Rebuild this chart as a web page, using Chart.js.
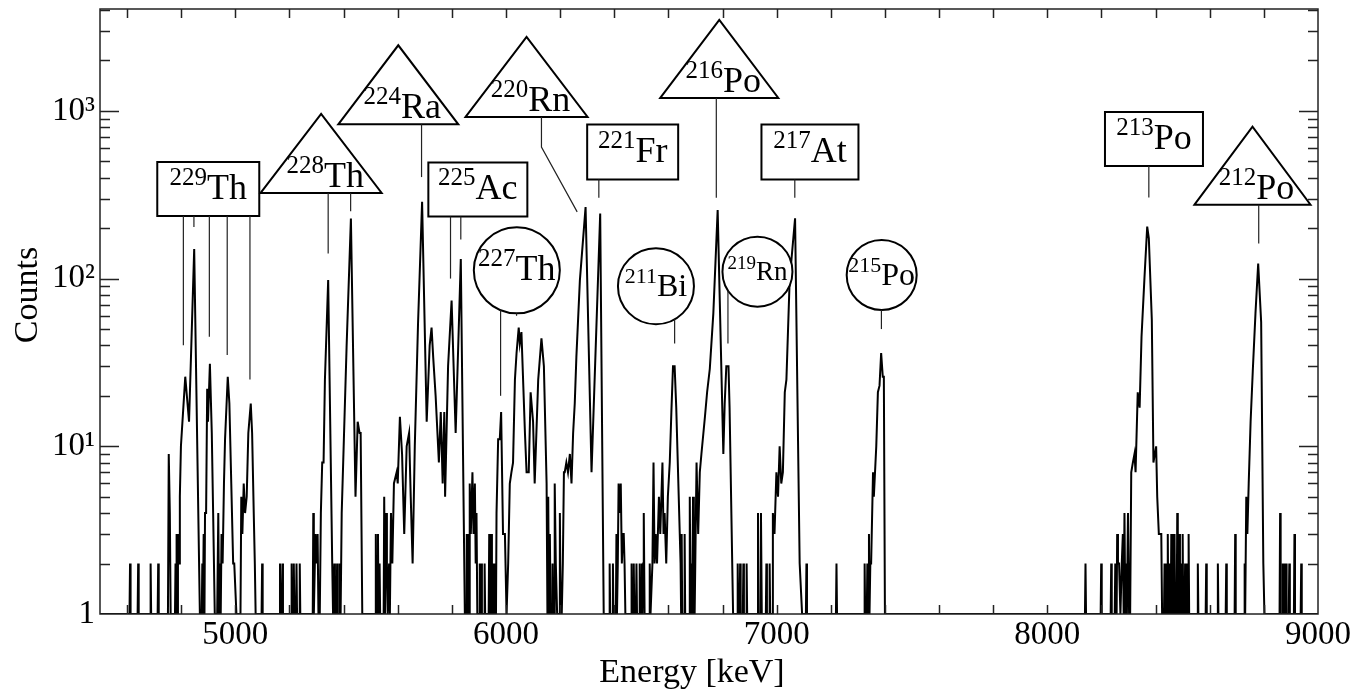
<!DOCTYPE html>
<html lang="en">
<head>
  <meta charset="UTF-8" />
  <title>Alpha spectrum</title>
  <script src="https://cdn.jsdelivr.net/npm/chart.js"></script>
  <style>
    html, body {
      margin: 0;
      padding: 0;
      background: #fff;
    }
    #wrap {
      width: 1365px;
      height: 694px;
    }
  </style>
</head>
<body>
  <div id="wrap"><canvas id="spectrum" width="1365" height="694"></canvas></div>

  <script>
    const FONT = "'Liberation Serif', 'Times New Roman', serif";

    // spectrum: energy in keV, counts per bin (1 = empty floor)
    const energyKeV = [
      4500, 4609, 4611, 4613, 4639, 4641, 4643, 4685, 4687, 4689, 4713, 4715, 4717,
      4751, 4754, 4758, 4761, 4777, 4779, 4781, 4783, 4785, 4788, 4792, 4795, 4799,
      4815, 4829, 4848, 4869, 4876, 4878, 4880, 4883, 4886, 4888, 4892,
      4896, 4899, 4906, 4913, 4918, 4924, 4933, 4937, 4940, 4943, 4946, 4949, 4953,
      4958, 4962, 4972, 4978, 4985, 4992, 4996, 5004, 5019, 5022, 5026, 5031, 5036,
      5042, 5048, 5057, 5062, 5068, 5072, 5075, 5097, 5099, 5101,
      5163, 5165, 5167, 5172, 5174, 5176, 5206, 5208, 5210, 5214, 5216, 5218,
      5224, 5226, 5228, 5236, 5238, 5240, 5286, 5288, 5290, 5296, 5300, 5304, 5307,
      5312, 5316, 5321, 5326, 5331, 5343, 5358, 5361, 5366, 5368, 5374, 5376, 5378,
      5384, 5386, 5389, 5393, 5401, 5411, 5427, 5444, 5452, 5459, 5463, 5469,
      5517, 5519, 5521, 5525, 5527, 5529, 5533, 5535, 5548, 5550, 5553, 5557, 5560,
      5563, 5568, 5571, 5575, 5580, 5586, 5596, 5600, 5608, 5616, 5624, 5633, 5642,
      5648, 5655, 5663, 5675, 5690, 5707, 5718, 5725, 5731, 5740, 5752, 5759, 5766,
      5772, 5775, 5786, 5799, 5814, 5833, 5848, 5853, 5855, 5857, 5860, 5862, 5864,
      5866, 5870, 5876, 5880, 5885, 5888, 5891, 5894, 5901, 5903, 5905,
      5907, 5909, 5911, 5919, 5921, 5923, 5936, 5938, 5940, 5944, 5946, 5948,
      5953, 5955, 5957, 5959, 5961, 5963, 5965, 5971, 5977, 5982, 5989, 5996, 6002,
      6008, 6014, 6020, 6026, 6033, 6039, 6047, 6051, 6057, 6070, 6076, 6084, 6091,
      6100, 6106, 6119, 6131, 6140, 6150, 6153, 6156, 6159, 6162, 6165, 6170, 6172,
      6174, 6178, 6180, 6184, 6189, 6197, 6199, 6202, 6206, 6210, 6214, 6217, 6223,
      6229, 6236, 6242, 6248, 6254, 6260, 6273, 6294, 6316, 6348, 6361,
      6381, 6383, 6385, 6393, 6395, 6397, 6406, 6408, 6410, 6413, 6416, 6420, 6424,
      6428, 6432, 6435, 6438, 6441, 6462, 6464, 6466, 6470, 6472, 6474, 6480, 6482,
      6484, 6492, 6494, 6496, 6500, 6502, 6504, 6507, 6509, 6512, 6529, 6531, 6534,
      6541, 6545, 6549, 6553, 6558, 6565, 6570, 6578, 6582, 6586, 6592, 6598, 6605,
      6611, 6617, 6623, 6629, 6645, 6647, 6649, 6651, 6658, 6660, 6662, 6677, 6679,
      6682, 6685, 6688, 6691, 6694, 6697, 6704, 6710, 6716, 6722, 6735, 6743, 6753,
      6766, 6782, 6803, 6808, 6814, 6822, 6826, 6839, 6854, 6856, 6858, 6863, 6865,
      6867, 6875, 6877, 6879, 6887, 6889, 6891, 6929, 6931, 6934, 6940, 6942, 6945,
      6960, 6962, 6964, 6972, 6974, 6976, 6984, 6986, 6992, 6999, 7005, 7011, 7017,
      7023, 7030, 7036, 7048, 7068, 7085, 7094, 7108, 7110, 7112, 7219, 7221, 7223,
      7323, 7325, 7327, 7333, 7335, 7337, 7339, 7341, 7343, 7346, 7349, 7356, 7359,
      7368, 7374, 7380, 7386, 7392, 7396, 7400, 8139, 8141, 8143, 8197, 8199, 8201,
      8234, 8236, 8238, 8249, 8251, 8253, 8256, 8258, 8261, 8265, 8270, 8275, 8279,
      8282, 8285, 8288, 8291, 8294, 8298, 8302, 8306, 8310, 8316, 8322, 8326, 8334,
      8341, 8348, 8359, 8369, 8375, 8386, 8392, 8402, 8406, 8412, 8421, 8424,
      8431, 8433, 8435, 8437, 8439, 8441, 8443, 8445, 8447, 8449, 8451, 8453,
      8456, 8458, 8460, 8462, 8464, 8466, 8468, 8470, 8472, 8478, 8480, 8482,
      8486, 8488, 8490, 8492, 8494, 8496, 8498, 8500, 8502, 8507, 8509, 8511,
      8513, 8515, 8517, 8520, 8522, 8524, 8554, 8556, 8558, 8585, 8587, 8589,
      8628, 8630, 8632, 8659, 8661, 8663, 8692, 8694, 8696, 8727, 8729, 8731,
      8733, 8735, 8739, 8744, 8751, 8759, 8769, 8779, 8790, 8798, 8802,
      8858, 8860, 8862, 8868, 8870, 8872, 8874, 8876, 8878, 8880, 8882, 8884,
      8892, 8894, 8896, 8911, 8913, 8915, 8936, 8938, 8940, 9000
    ];
    const counts = [
      1, 1, 2, 1, 1, 2, 1, 1, 2, 1, 1, 2, 1,
      1, 9, 4, 1, 1, 2, 1, 3, 1, 3, 2, 5, 10,
      26, 14, 150, 1, 1, 2, 1, 3, 1, 4, 4,
      22, 14, 31, 12, 4, 1, 1, 4, 1, 2, 1, 3, 2,
      6, 11, 26, 18, 6, 2, 2, 1, 1, 5, 3, 6, 4,
      5, 12, 18, 12, 4, 2, 1, 1, 2, 1,
      1, 2, 1, 1, 2, 1, 1, 2, 1, 1, 2, 1,
      1, 2, 1, 1, 2, 1, 1, 4, 1, 3, 2, 3, 1,
      1, 4, 8, 8, 25, 98, 2, 1, 2, 1, 1, 2, 1,
      1, 2, 1, 4, 11, 39, 228, 5, 14, 12, 12, 1,
      1, 3, 1, 1, 3, 1, 2, 1, 1, 5, 1, 4, 2,
      1, 2, 1, 4, 2, 6, 7, 6, 15, 9, 3, 10, 12,
      5, 2, 10, 54, 287, 14, 40, 51, 34, 20, 8, 16, 6,
      16, 5, 30, 74, 12, 131, 1, 1, 3, 1, 1, 3, 1,
      6, 3, 7, 3, 6, 2, 4, 1, 1, 2, 1,
      1, 2, 1, 1, 2, 1, 1, 3, 1, 1, 3, 1,
      1, 2, 1, 1, 2, 1, 4, 11, 11, 16, 3, 3, 1,
      2, 6, 7, 8, 25, 36, 51, 41, 48, 12, 7, 7, 21,
      14, 6, 25, 44, 30, 6, 1, 5, 1, 3, 1, 1, 2,
      1, 1, 6, 2, 1, 1, 4, 1, 1, 2, 7, 7, 8,
      7, 9, 6, 12, 18, 34, 98, 267, 7, 244, 1,
      1, 2, 1, 1, 2, 1, 1, 3, 1, 2, 6, 4, 6,
      2, 3, 3, 2, 1, 1, 2, 1, 1, 2, 1, 1, 2,
      1, 1, 2, 1, 1, 2, 1, 2, 4, 1, 1, 2, 1,
      2, 8, 2, 3, 2, 5, 3, 8, 3, 4, 2, 5, 8,
      16, 30, 30, 17, 2, 1, 3, 1, 1, 3, 1, 1, 5,
      1, 2, 1, 5, 1, 1, 8, 3, 7, 9, 15, 21, 29,
      62, 256, 9, 18, 30, 30, 17, 1, 1, 2, 1, 1, 2,
      1, 1, 2, 1, 1, 2, 1, 1, 4, 1, 1, 4, 1,
      1, 2, 1, 1, 2, 1, 1, 4, 3, 7, 5, 10, 6,
      7, 21, 25, 98, 229, 2, 1, 1, 2, 1, 1, 2, 1,
      1, 2, 1, 1, 2, 1, 1, 3, 1, 2, 2, 7, 5,
      10, 21, 23, 36, 26, 26, 1, 1, 2, 1, 1, 2, 1,
      1, 2, 1, 1, 2, 1, 1, 3, 2, 2, 1, 2, 3,
      1, 4, 1, 2, 1, 4, 1, 1, 7, 8, 9, 7, 21,
      17, 45, 102, 204, 174, 57, 8, 10, 5, 3, 3, 1,
      1, 2, 1, 1, 2, 1, 1, 3, 1, 1, 2, 1,
      1, 3, 1, 1, 3, 1, 1, 3, 1, 1, 4, 1,
      1, 3, 1, 1, 2, 1, 1, 3, 1, 1, 2, 1,
      1, 2, 1, 1, 3, 1, 1, 2, 1, 1, 2, 1,
      1, 2, 1, 1, 2, 1, 1, 3, 1, 1, 2, 1,
      1, 5, 3, 6, 14, 28, 62, 123, 55, 2, 1,
      1, 4, 1, 1, 2, 1, 1, 2, 1, 1, 2, 1,
      1, 2, 1, 1, 3, 1, 1, 2, 1, 1
    ];

    const xTickValues = [5000, 6000, 7000, 8000, 9000];
    const yTickValues = [1, 10, 100, 1000];
    const yTickLabels = ['1', '10¹', '10²', '10³'];

    const isotopeMass = ['229', '228', '224', '220', '225', '227', '221', '216', '217', '211', '219', '215', '213', '212'];
    const isotopeElement = ['Th', 'Th', 'Ra', 'Rn', 'Ac', 'Th', 'Fr', 'Po', 'At', 'Bi', 'Rn', 'Po', 'Po', 'Po'];

    // label placement in data units (keV, counts); sizes in px
    const labelLayout = [
      { shape: 'box', at: [4900, 342], w: 102, h: 54, font: [36, 25], lines: [[4808, 40], [4847, 203], [4904, 45], [4970, 35], [5054, 25]] },
      { shape: 'tri', at: [5317, 324], w: 121, h: 79, font: [36, 25], lines: [[5343, 141], [5426, 252]] },
      { shape: 'tri', at: [5602, 832], w: 120, h: 79, font: [36, 25], lines: [[5688, 403]] },
      { shape: 'tri', at: [6076, 920], w: 122, h: 80, font: [36, 25], path: [[6131, 920], [6131, 609], [6263, 250]] },
      { shape: 'box', at: [5896, 340], w: 99, h: 54, font: [36, 25], lines: [[5795, 100], [5833, 171]] },
      { shape: 'circle', at: [6040, 112], r: 43, font: [36, 25], base: 10, lines: [[5980, 20], [6039, 60]] },
      { shape: 'box', at: [6468, 569], w: 91, h: 55, font: [36, 25], lines: [[6343, 303]] },
      { shape: 'tri', at: [6788, 1194], w: 118, h: 78, font: [36, 25], lines: [[6777, 303]] },
      { shape: 'box', at: [7123, 569], w: 97, h: 55, font: [36, 25], lines: [[7067, 303]] },
      { shape: 'circle', at: [6554, 90], r: 38, font: [32, 22], base: 10, lines: [[6623, 41]] },
      { shape: 'circle', at: [6929, 110], r: 35, font: [27, 19], base: 8, lines: [[6820, 41]] },
      { shape: 'circle', at: [7388, 105], r: 35, font: [32, 22], base: 10, lines: [[7387, 50]] },
      { shape: 'box', at: [8394, 680], w: 98, h: 54, font: [36, 25], lines: [[8375, 304]] },
      { shape: 'tri', at: [8758, 276], w: 116, h: 78, font: [36, 25], lines: [[8781, 162]] }
    ];

    const points = energyKeV.map((e, i) => ({ x: e, y: counts[i] }));

    const decor = {
      id: 'decor',
      afterDatasetsDraw(chart) {
        const { ctx, chartArea: a, scales: { x, y } } = chart;
        ctx.save();

        // isotope labels with leader lines
        labelLayout.forEach((l, i) => {
          const cx = x.getPixelForValue(l.at[0]);
          const cy = y.getPixelForValue(l.at[1]);
          let bottomAt;
          ctx.beginPath();
          if (l.shape === 'box') {
            ctx.rect(cx - l.w / 2, cy - l.h / 2, l.w, l.h);
            bottomAt = () => cy + l.h / 2;
          } else if (l.shape === 'tri') {
            ctx.moveTo(cx - l.w / 2, cy);
            ctx.lineTo(cx, cy - l.h);
            ctx.lineTo(cx + l.w / 2, cy);
            ctx.closePath();
            bottomAt = () => cy;
          } else {
            ctx.arc(cx, cy, l.r, 0, Math.PI * 2);
            bottomAt = px => cy + Math.sqrt(Math.max(0, l.r * l.r - (px - cx) * (px - cx)));
          }
          ctx.fillStyle = '#fff';
          ctx.fill();
          ctx.lineWidth = 2;
          ctx.strokeStyle = '#000';
          ctx.stroke();

          const [big, small] = l.font;
          ctx.font = big + 'px ' + FONT;
          const wEl = ctx.measureText(isotopeElement[i]).width;
          ctx.font = small + 'px ' + FONT;
          const wMass = ctx.measureText(isotopeMass[i]).width;
          const shift = l.shape === 'tri' ? 4 : 0;
          const tx = cx + shift - (wEl + wMass) / 2;
          const base = l.shape === 'box' ? cy + 10 : l.shape === 'tri' ? cy - 6 : cy + l.base;
          ctx.fillStyle = '#000';
          ctx.textAlign = 'left';
          ctx.textBaseline = 'alphabetic';
          ctx.fillText(isotopeMass[i], tx, base - Math.round(big * 0.4));
          ctx.font = big + 'px ' + FONT;
          ctx.fillText(isotopeElement[i], tx + wMass, base);

          ctx.lineWidth = 1.2;
          ctx.strokeStyle = '#222';
          (l.lines || []).forEach(([e, c]) => {
            const px = x.getPixelForValue(e);
            ctx.beginPath();
            ctx.moveTo(px, bottomAt(px));
            ctx.lineTo(px, y.getPixelForValue(c));
            ctx.stroke();
          });
          if (l.path) {
            ctx.beginPath();
            l.path.forEach(([e, c], k) => {
              const px = x.getPixelForValue(e), py = y.getPixelForValue(c);
              k ? ctx.lineTo(px, py) : ctx.moveTo(px, py);
            });
            ctx.stroke();
          }
        });

        // frame and inward ticks on all four sides
        ctx.strokeStyle = '#222';
        ctx.lineWidth = 1.5;
        ctx.strokeRect(a.left, a.top, a.right - a.left, a.bottom - a.top);
        ctx.beginPath();
        for (let e = 4600; e < 9000; e += 200) {
          const px = Math.round(x.getPixelForValue(e)) + 0.5;
          ctx.moveTo(px, a.bottom); ctx.lineTo(px, a.bottom - 9);
          ctx.moveTo(px, a.top); ctx.lineTo(px, a.top + 9);
        }
        yTickValues.forEach(d => {
          for (let m = 1; m <= 9; m++) {
            const v = d * m;
            if (v <= 1 || v >= y.max) continue;
            const py = Math.round(y.getPixelForValue(v)) + 0.5;
            const len = m === 1 ? 19 : 10;
            ctx.moveTo(a.left, py); ctx.lineTo(a.left + len, py);
            ctx.moveTo(a.right, py); ctx.lineTo(a.right - len, py);
          }
        });
        ctx.stroke();

        // axis titles
        ctx.fillStyle = '#000';
        ctx.font = '34px ' + FONT;
        ctx.textAlign = 'center';
        ctx.textBaseline = 'alphabetic';
        ctx.fillText('Energy [keV]', 692, 682);
        ctx.translate(37, 295);
        ctx.rotate(-Math.PI / 2);
        ctx.fillText('Counts', 0, 0);
        ctx.restore();
      }
    };

    new Chart(document.getElementById('spectrum'), {
      type: 'line',
      data: {
        datasets: [{
          label: 'Counts',
          data: points,
          borderColor: '#000',
          borderWidth: 2,
          pointRadius: 0,
          tension: 0,
          fill: false
        }]
      },
      options: {
        responsive: false,
        animation: false,
        devicePixelRatio: 1,
        parsing: false,
        layout: { padding: { left: 0, right: 47, top: 9, bottom: 0 } },
        plugins: {
          legend: { display: false },
          tooltip: { enabled: false }
        },
        scales: {
          x: {
            type: 'linear',
            min: 4500,
            max: 9000,
            grid: { display: false, drawTicks: false },
            border: { display: false },
            ticks: {
              autoSkip: false,
              maxRotation: 0,
              padding: 2,
              color: '#000',
              font: { family: FONT, size: 33 },
              callback: v => String(v)
            },
            afterBuildTicks: s => { s.ticks = xTickValues.map(v => ({ value: v })); },
            afterFit: s => { s.height = 80; s.paddingLeft = 0; s.paddingRight = 0; }
          },
          y: {
            type: 'logarithmic',
            min: 1,
            max: 4050,
            grid: { display: false, drawTicks: false },
            border: { display: false },
            ticks: {
              padding: 5,
              color: '#000',
              font: { family: FONT, size: 33 },
              callback: v => yTickLabels[yTickValues.indexOf(v)]
            },
            afterBuildTicks: s => { s.ticks = yTickValues.map(v => ({ value: v })); },
            afterFit: s => { s.width = 100; s.paddingTop = 0; s.paddingBottom = 0; }
          }
        }
      },
      plugins: [decor]
    });
  </script>
</body>
</html>
